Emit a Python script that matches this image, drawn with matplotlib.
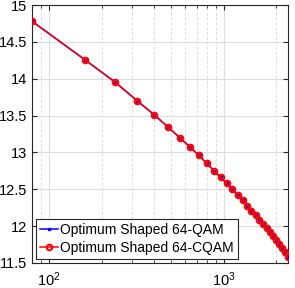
import matplotlib
matplotlib.use("Agg")
import matplotlib.pyplot as plt
from matplotlib.ticker import LogLocator, FixedLocator, NullFormatter

plt.rcParams['font.family'] = ['Liberation Sans', 'DejaVu Sans']
plt.rcParams['mathtext.fontset'] = 'custom'
plt.rcParams['mathtext.rm'] = 'Liberation Sans'
plt.rcParams['mathtext.it'] = 'Liberation Sans:italic'

x_vals = [80, 160, 240, 320, 400, 480, 560, 640, 720, 800, 880, 960, 1040, 1120,
          1200, 1280, 1360, 1440, 1520, 1600, 1680, 1760, 1840, 1920, 2000, 2080,
          2160, 2240, 2320]
qam = [14.78, 14.26, 13.95, 13.70, 13.51, 13.345, 13.20, 13.075, 12.96, 12.85,
       12.75, 12.66, 12.58, 12.50, 12.42, 12.35, 12.28, 12.21, 12.15, 12.09,
       12.03, 11.97, 11.92, 11.865, 11.81, 11.76, 11.71, 11.655, 11.58]
cqam = list(qam)
labels = ["Optimum Shaped 64-QAM", "Optimum Shaped 64-CQAM"]
yticks = [11.5, 12, 12.5, 13, 13.5, 14, 14.5, 15]

fig = plt.figure(figsize=(2.95, 2.88), dpi=100)
ax = fig.add_axes([32/295, 25/288, 256/295, 258/288])

ax.plot(x_vals, qam, color='blue', marker='s', markersize=2.0, linewidth=1.1,
        label=labels[0], zorder=3)
ax.plot(x_vals, cqam, color='red', marker='o', markersize=4.0, markerfacecolor='none',
        markeredgewidth=1.5, linewidth=1.1, label=labels[1], zorder=4)

ax.set_xscale('log')
ax.set_xlim(80, 2330)
ax.set_ylim(11.5, 15)
ax.set_yticks(yticks)
ax.set_yticklabels([('%g' % v) for v in yticks])
ax.xaxis.set_major_locator(FixedLocator([100, 1000]))
ax.set_xticklabels(['$10^2$', '$10^3$'])
ax.xaxis.set_minor_locator(LogLocator(base=10, subs=range(2, 10)))
ax.xaxis.set_minor_formatter(NullFormatter())

ax.grid(True, which='major', color='#dcdcdc', linewidth=0.8, linestyle='-')
ax.grid(True, which='minor', axis='x', color='#dcdcdc', linewidth=0.7, linestyle=(0, (3, 2)))
ax.set_axisbelow(True)

ax.tick_params(which='both', direction='in', top=True, right=True, labelsize=10.5,
               color='#262626')
ax.tick_params(which='major', length=3.5, width=0.8)
ax.tick_params(which='minor', length=2, width=0.6)
ax.tick_params(axis='x', pad=5)
for s in ax.spines.values():
    s.set_color('#262626')
    s.set_linewidth(0.8)

leg = ax.legend(loc='lower left', fontsize=10, frameon=True, fancybox=False,
                handlelength=1.3, handletextpad=0.15, borderpad=0.3, labelspacing=0.25,
                borderaxespad=0.3, framealpha=1)
leg.get_frame().set_edgecolor('#262626')
leg.get_frame().set_linewidth(0.8)

fig.savefig('out.png', dpi=100)
